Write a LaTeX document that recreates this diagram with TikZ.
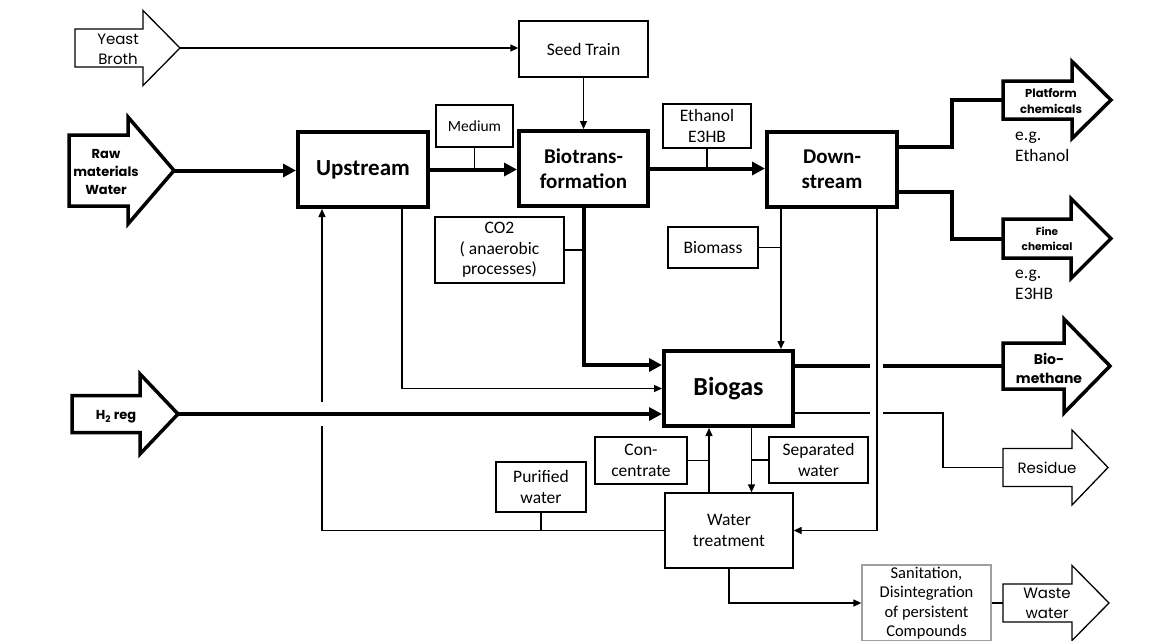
\documentclass[tikz,border=0pt]{standalone}
\usepackage{fontspec}
\setmainfont{Carlito}
\newfontfamily\gothic{Poppins}
\usetikzlibrary{arrows.meta,calc}

\tikzset{
  thinline/.style={line width=1.3pt},
  thickline/.style={line width=4pt},
  fatline/.style={line width=3.5pt},
  thinarrow/.style={thinline, -{Triangle[length=8pt,width=7pt]}},
  thickarrow/.style={thickline, -{Triangle[length=13pt,width=13pt]}},
  thinbox/.style={draw, thinline, align=center, inner sep=0pt,
    font=\fontsize{17.5}{21}\selectfont},
  bigbox/.style={draw, thickline, align=center, inner sep=0pt,
    minimum width=129pt, minimum height=75pt,
    font=\bfseries\fontsize{21}{24.5}\selectfont},
  gothictext/.style={align=center, inner sep=0pt,
    font=\gothic\fontsize{15}{20}\selectfont},
  gothicbold/.style={align=center, inner sep=0pt,
    font=\gothic\bfseries\fontsize{13}{18}\selectfont},
  eglabel/.style={anchor=west, align=left, inner sep=0pt,
    font=\fontsize{17.5}{21}\selectfont},
}

% fat arrow: style, name, left x, centre y, half body, head x, half head, tip x
\newcommand{\fatarrow}[8][]{%
  \draw[#1] (#3,#4-#5) -- (#6,#4-#5) -- (#6,#4-#7) -- (#8,#4)
    -- (#6,#4+#7) -- (#6,#4+#5) -- (#3,#4+#5) -- cycle;
  \coordinate (#2) at (#8,#4);
  \coordinate (#2-in) at (#3,#4);}

\begin{document}
\begin{tikzpicture}[x=1pt,y=-1pt]
\useasboundingbox (0,0) rectangle (1164,640);

% Process blocks
\node[bigbox, minimum width=130pt, font=\bfseries\fontsize{23}{27}\selectfont] (up) at (363,169.5) {Upstream};
\node[bigbox] (bt) at (583.5,168.5) {Biotrans-\\formation};
\node[bigbox, minimum width=130pt] (dn) at (832,169.5) {Down-\\stream};
\node[bigbox, font=\bfseries\fontsize{26}{30}\selectfont] (bg) at (728.5,388.5) {Biogas};
\node[thinbox, minimum width=128pt, minimum height=75pt] (wt) at (729,530.5) {Water\\treatment};

% Small label boxes
\node[thinbox, minimum width=129pt, minimum height=56pt] (seed) at (583.5,49) {Seed Train};
\node[thinbox, minimum width=77pt, minimum height=42pt, font=\fontsize{15.5}{19}\selectfont] (med) at (474.5,126) {Medium};
\node[thinbox, minimum width=88pt, minimum height=44pt] (eth) at (707,126) {Ethanol\\E3HB};
\node[thinbox, minimum width=129pt, minimum height=66pt, font=\fontsize{17.5}{20.5}\selectfont] (co2) at (499.5,250) {CO2\\( anaerobic\\processes)};
\node[thinbox, minimum width=90pt, minimum height=41pt] (bms) at (713,247.5) {Biomass};
\node[thinbox, minimum width=92pt, minimum height=47pt] (conc) at (641,460.5) {Con-\\centrate};
\node[thinbox, minimum width=99pt, minimum height=46pt] (sep) at (818.5,460) {Separated\\water};
\node[thinbox, minimum width=90pt, minimum height=50pt] (pw) at (541,487) {Purified\\water};
\node[thinbox, draw=gray!75, minimum width=129pt, minimum height=76pt, font=\fontsize{16.5}{19.5}\selectfont] (san) at (926.5,603) {Sanitation,\\Disintegration\\of persistent\\Compounds};

% Input arrows
\fatarrow[thinline]{yeast}{75}{48}{19}{143}{37.5}{180}
\node[gothictext] (yeastt) at (118,49) {Yeast\\Broth};
\fatarrow[fatline]{raw}{69}{170.5}{35.5}{128}{53.5}{174}
\node[gothicbold] (rawt) at (106,172) {Raw\\materials\\Water};
\fatarrow[fatline]{h2}{72}{414}{18.5}{140}{40}{178}
\node[gothicbold] (h2t) at (116,417) {H\textsubscript{2} reg};

% Output arrows
\fatarrow[fatline]{plat}{1003}{100}{19}{1072}{38.5}{1111}
\node[gothicbold, font=\gothic\bfseries\fontsize{11.5}{16}\selectfont] (platt) at (1051,101) {Platform\\chemicals};
\node[eglabel] (egeth) at (1015,146.5) {e.g.\\Ethanol};
\fatarrow[fatline]{fine}{1003}{238.5}{19.5}{1071}{40}{1111}
\node[gothicbold, font=\gothic\bfseries\fontsize{10.5}{14.5}\selectfont] (finet) at (1047,239) {Fine\\chemical};
\node[eglabel] (egfine) at (1015,285) {e.g.\\E3HB};
\fatarrow[fatline]{bm}{1003}{366}{23}{1064}{47}{1110}
\node[gothicbold, font=\gothic\bfseries\fontsize{14}{19}\selectfont] (bmt) at (1049,368) {Bio-\\methane};
\fatarrow[thinline]{res}{1003}{467.5}{19}{1072}{37.5}{1108}
\node[gothictext] (rest) at (1047,468) {Residue};
\fatarrow[thinline]{ww}{1003}{603}{19}{1072}{37.5}{1109}
\node[gothictext] (wwt) at (1047,603) {Waste\\water};

% Main line
\draw[thinarrow] (yeast) -- (yeast -| seed.west);
\draw[thinarrow] (seed.south) -- (bt.north);
\draw[thickarrow] (raw) -- (raw -| up.west);
\draw[thickarrow] (up.east) -- (up.east -| bt.west);
\draw[thickarrow] (bt.east) -- (bt.east -| dn.west);
\draw[thinline] (med.south) -- (med.south |- up.east);
\draw[thinline] (eth.south) -- (eth.south |- bt.east);

% Products
\draw[thickline] ([yshift=22.5pt]dn.east) -- ++(53,0) |- (plat-in);
\draw[thickline] ([yshift=-22.5pt]dn.east) -- ++(53,0) |- (fine-in);

% Streams into the biogas plant
\draw[thickarrow] (bt.south) |- ([yshift=23.5pt]bg.west);
\draw[thinline] (co2.east) -- (co2.east -| bt.south);
\coordinate (upB) at ([xshift=39pt]up.south);
\draw[thinarrow] (upB) |- (bg.west);
\draw[thickarrow] (h2) -- (h2 -| bg.west);
\coordinate (dnA) at ([xshift=-51pt]dn.south);
\draw[thinarrow] (dnA) -- (dnA |- bg.north);
\draw[thinline] (bms.east) -- (bms.east -| dnA);
\coordinate (dnB) at ([xshift=45pt]dn.south);
\draw[thinarrow] (dnB) |- (wt.east);

% Biogas outputs, broken where they cross
\coordinate (bmA) at ([yshift=22.5pt]bg.east);
\draw[thickline] (bmA) -- ($(bmA -| dnB)+(-7,0)$);
\draw[thickline] ($(bmA -| dnB)+(6,0)$) -- (bm-in);
\coordinate (resA) at ([yshift=-24.5pt]bg.east);
\draw[thinline] (resA) -- ($(resA -| dnB)+(-7,0)$);
\draw[thinline] ($(resA -| dnB)+(6,0)$) -- ++(60,0) |- (res-in);

% Water loop
\coordinate (bgB) at ([xshift=23pt]bg.south);
\draw[thinarrow] (bgB) -- (bgB |- wt.north);
\coordinate (wtA) at ([xshift=-20pt]wt.north);
\draw[thinarrow] (wtA) -- (wtA |- bg.south);
\draw[thinline] (conc.east) -- (conc.east -| wtA);
\draw[thinline] (sep.west) -- (sep.west -| bgB);
\coordinate (upC) at ([xshift=-41pt]up.south);
\draw[thinline] (wt.west) -| ($(upC |- h2)+(0,12)$);
\draw[thinarrow] ($(upC |- h2)+(0,-12)$) -- (upC);
\draw[thinline] (pw.south) -- (pw.south |- wt.west);
\draw[thinarrow] (wt.south) |- (san.west);
\draw[thinline] (san.east) -- (ww-in);
\end{tikzpicture}
\end{document}
